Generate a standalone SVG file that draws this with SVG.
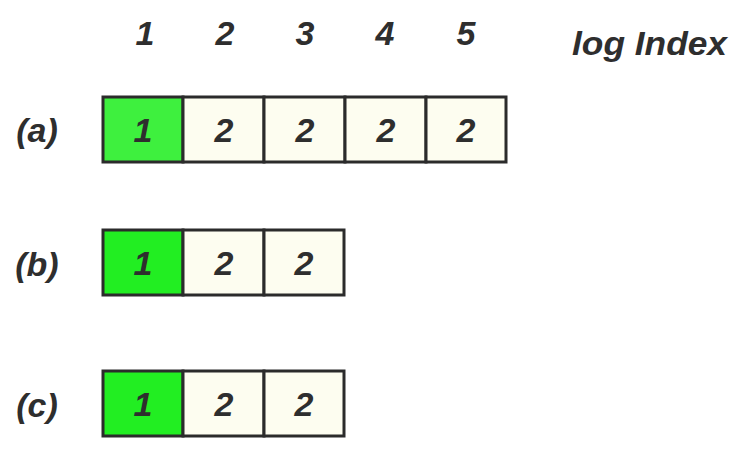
<svg xmlns="http://www.w3.org/2000/svg" width="750" height="451" viewBox="0 0 750 451">
<style>
text{font-family:"Liberation Sans",Arial,sans-serif;font-weight:bold;font-style:italic;font-size:34px;fill:#2e2e2e;text-anchor:middle}
.g{fill:#3ef03e;stroke:#2b2b2b;stroke-width:3}
.g2{fill:#22ee22;stroke:#2b2b2b;stroke-width:3}
.c{fill:#fdfdf0;stroke:#2b2b2b;stroke-width:3}
.l{text-anchor:start}
</style>
<rect width="750" height="451" fill="#ffffff"/>
<g id="header">
<text x="145" y="45">1</text>
<text x="225" y="45">2</text>
<text x="305" y="45">3</text>
<text x="385" y="45">4</text>
<text x="466" y="45">5</text>
<text class="l" x="572" y="55" textLength="155" lengthAdjust="spacingAndGlyphs">log Index</text>
</g>
<g id="row-a">
<text x="37" y="142">(a)</text>
<rect class="g" x="103" y="97" width="80" height="65"/>
<rect class="c" x="183" y="97" width="81" height="65"/>
<rect class="c" x="264" y="97" width="81" height="65"/>
<rect class="c" x="345" y="97" width="81" height="65"/>
<rect class="c" x="426" y="97" width="80" height="65"/>
<text x="143" y="142">1</text>
<text x="224" y="142">2</text>
<text x="305" y="142">2</text>
<text x="386" y="142">2</text>
<text x="466" y="142">2</text>
</g>
<g id="row-b">
<text x="37" y="276">(b)</text>
<rect class="g2" x="103" y="230" width="80" height="65"/>
<rect class="c" x="183" y="230" width="81" height="65"/>
<rect class="c" x="264" y="230" width="80" height="65"/>
<text x="143" y="275">1</text>
<text x="224" y="275">2</text>
<text x="304" y="275">2</text>
</g>
<g id="row-c">
<text x="37" y="417">(c)</text>
<rect class="g2" x="103" y="371" width="80" height="65"/>
<rect class="c" x="183" y="371" width="81" height="65"/>
<rect class="c" x="264" y="371" width="80" height="65"/>
<text x="143" y="416">1</text>
<text x="224" y="416">2</text>
<text x="304" y="416">2</text>
</g>
<g id="connectors"/>
</svg>
